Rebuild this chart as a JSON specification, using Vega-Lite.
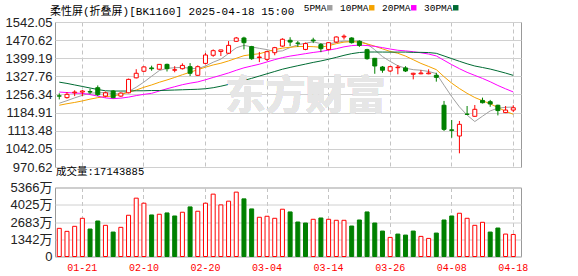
{
  "$schema": "https://vega.github.io/schema/vega-lite/v6.json",
  "background": "white",
  "padding": {"left": 4, "top": 3, "right": 10, "bottom": 2},
  "bounds": "flush",
  "spacing": 20.5,
  "config": {
    "view": {"stroke": "#999999", "strokeWidth": 1},
    "axis": {"gridColor": "#d0d0d0", "domain": false, "ticks": false, "titleFontSize": 0},
    "axisY": {"labelFont": "Liberation Sans, Noto Sans CJK SC", "labelFontSize": 13, "labelColor": "#222222", "labelPadding": 3, "labelOverlap": false, "grid": true, "gridColor": "#d0d0d0", "title": null},
    "font": "Liberation Sans"
  },
  "resolve": {"scale": {"y": "independent"}},
  "datasets": {
    "k": [
      {"d":"01-16","o":1251,"h":1261,"l":1237,"c":1250,"v":2190,"up":true,"5PMA":1222,"10PMA":1214,"20PMA":1266,"30PMA":1305},
      {"d":"01-17","o":1244,"h":1266,"l":1240,"c":1257,"v":1956,"up":true,"5PMA":1232,"10PMA":1220,"20PMA":1264,"30PMA":1300},
      {"d":"01-20","o":1263,"h":1273,"l":1250,"c":1266,"v":2347,"up":true,"5PMA":1243,"10PMA":1225,"20PMA":1262,"30PMA":1294},
      {"d":"01-21","o":1266,"h":1274,"l":1250,"c":1270,"v":2972,"up":true,"5PMA":1253,"10PMA":1231,"20PMA":1261,"30PMA":1288},
      {"d":"01-22","o":1268,"h":1279,"l":1258,"c":1266,"v":2135,"up":false,"5PMA":1261.8,"10PMA":1238,"20PMA":1256,"30PMA":1282},
      {"d":"01-23","o":1283,"h":1292,"l":1250,"c":1255.5,"v":2761,"up":false,"5PMA":1262.9,"10PMA":1244,"20PMA":1250,"30PMA":1276},
      {"d":"01-24","o":1250,"h":1268,"l":1245,"c":1263,"v":2425,"up":true,"5PMA":1264.1,"10PMA":1248,"20PMA":1243,"30PMA":1271},
      {"d":"01-27","o":1270,"h":1274,"l":1241,"c":1244,"v":1901,"up":false,"5PMA":1259.7,"10PMA":1251,"20PMA":1240,"30PMA":1270},
      {"d":"02-05","o":1250,"h":1265,"l":1247,"c":1262,"v":2268,"up":true,"5PMA":1258.1,"10PMA":1256,"20PMA":1242,"30PMA":1270},
      {"d":"02-06","o":1263,"h":1319,"l":1261,"c":1316,"v":3207,"up":true,"5PMA":1268.1,"10PMA":1265,"20PMA":1246,"30PMA":1270},
      {"d":"02-07","o":1322,"h":1356,"l":1320,"c":1340,"v":4537,"up":true,"5PMA":1285,"10PMA":1274,"20PMA":1252,"30PMA":1271},
      {"d":"02-10","o":1348,"h":1368,"l":1345,"c":1365,"v":4146,"up":true,"5PMA":1305.4,"10PMA":1284.8,"20PMA":1257,"30PMA":1271},
      {"d":"02-11","o":1361,"h":1370,"l":1350,"c":1358,"v":3231,"up":false,"5PMA":1328.2,"10PMA":1294,"20PMA":1261,"30PMA":1272},
      {"d":"02-12","o":1356,"h":1376,"l":1354,"c":1375,"v":3285,"up":true,"5PMA":1350.8,"10PMA":1304.5,"20PMA":1270,"30PMA":1272},
      {"d":"02-13","o":1375,"h":1378,"l":1347,"c":1358,"v":3387,"up":false,"5PMA":1359.2,"10PMA":1313.7,"20PMA":1279,"30PMA":1273},
      {"d":"02-14","o":1352,"h":1368,"l":1344,"c":1354,"v":3152,"up":false,"5PMA":1362,"10PMA":1323.5,"20PMA":1287,"30PMA":1274},
      {"d":"02-17","o":1358,"h":1379,"l":1355,"c":1371,"v":3442,"up":true,"5PMA":1363.2,"10PMA":1334.3,"20PMA":1295,"30PMA":1275},
      {"d":"02-18","o":1366,"h":1380,"l":1329,"c":1340,"v":3856,"up":false,"5PMA":1359.6,"10PMA":1343.9,"20PMA":1301,"30PMA":1276},
      {"d":"02-19","o":1332,"h":1371,"l":1330,"c":1366,"v":3520,"up":true,"5PMA":1357.8,"10PMA":1354.3,"20PMA":1306,"30PMA":1277},
      {"d":"02-20","o":1379,"h":1420,"l":1375,"c":1412,"v":4146,"up":true,"5PMA":1368.6,"10PMA":1363.9,"20PMA":1314.4,"30PMA":1279},
      {"d":"02-21","o":1411,"h":1434,"l":1405,"c":1429,"v":4850,"up":true,"5PMA":1383.6,"10PMA":1372.8,"20PMA":1323.4,"30PMA":1283},
      {"d":"02-24","o":1426,"h":1432,"l":1408,"c":1432,"v":4013,"up":true,"5PMA":1395.8,"10PMA":1379.5,"20PMA":1332.1,"30PMA":1289},
      {"d":"02-25","o":1419,"h":1467,"l":1416,"c":1450,"v":4302,"up":true,"5PMA":1417.8,"10PMA":1388.7,"20PMA":1341.3,"30PMA":1296},
      {"d":"02-26","o":1466,"h":1483,"l":1464,"c":1479,"v":5006,"up":true,"5PMA":1440.4,"10PMA":1399.1,"20PMA":1351.8,"30PMA":1304},
      {"d":"02-27","o":1479,"h":1484,"l":1434,"c":1460.5,"v":4482,"up":false,"5PMA":1450.1,"10PMA":1409.4,"20PMA":1361.5,"30PMA":1312},
      {"d":"02-28","o":1445,"h":1448,"l":1393,"c":1397.5,"v":3700,"up":false,"5PMA":1443.8,"10PMA":1413.7,"20PMA":1368.6,"30PMA":1320},
      {"d":"03-03","o":1402,"h":1424,"l":1384,"c":1404,"v":3051,"up":true,"5PMA":1438.2,"10PMA":1417,"20PMA":1375.7,"30PMA":1329},
      {"d":"03-04","o":1395,"h":1429,"l":1389,"c":1425,"v":3129,"up":true,"5PMA":1433.2,"10PMA":1425.5,"20PMA":1384.7,"30PMA":1338},
      {"d":"03-05","o":1421,"h":1444,"l":1411,"c":1441,"v":2972,"up":true,"5PMA":1425.6,"10PMA":1433,"20PMA":1393.7,"30PMA":1347},
      {"d":"03-06","o":1447,"h":1478,"l":1444,"c":1474,"v":3676,"up":true,"5PMA":1428.3,"10PMA":1439.2,"20PMA":1401.6,"30PMA":1356},
      {"d":"03-07","o":1470,"h":1482,"l":1447,"c":1463,"v":3465,"up":false,"5PMA":1441.4,"10PMA":1442.6,"20PMA":1407.7,"30PMA":1363.1},
      {"d":"03-10","o":1459,"h":1467,"l":1444,"c":1458,"v":2683,"up":false,"5PMA":1452.2,"10PMA":1445.2,"20PMA":1412.4,"30PMA":1369.8},
      {"d":"03-11","o":1434,"h":1461,"l":1431,"c":1457,"v":2605,"up":false,"5PMA":1458.6,"10PMA":1445.9,"20PMA":1417.3,"30PMA":1376.2},
      {"d":"03-12","o":1471,"h":1480,"l":1459,"c":1468,"v":2894,"up":true,"5PMA":1464,"10PMA":1444.8,"20PMA":1422,"30PMA":1382.8},
      {"d":"03-13","o":1453,"h":1459,"l":1423,"c":1437,"v":2996,"up":false,"5PMA":1456.6,"10PMA":1442.5,"20PMA":1425.9,"30PMA":1388.5},
      {"d":"03-14","o":1434,"h":1463,"l":1430,"c":1460.6,"v":2894,"up":true,"5PMA":1456.1,"10PMA":1448.8,"20PMA":1431.2,"30PMA":1395.3},
      {"d":"03-17","o":1463,"h":1485,"l":1460,"c":1483,"v":2816,"up":true,"5PMA":1461.1,"10PMA":1456.7,"20PMA":1436.8,"30PMA":1402.7},
      {"d":"03-18","o":1483,"h":1493,"l":1473,"c":1486,"v":2816,"up":true,"5PMA":1466.9,"10PMA":1462.8,"20PMA":1444.1,"30PMA":1410.7},
      {"d":"03-19","o":1479,"h":1482,"l":1457,"c":1460.6,"v":2370,"up":false,"5PMA":1465.4,"10PMA":1464.7,"20PMA":1448.9,"30PMA":1417.3},
      {"d":"03-20","o":1466,"h":1470,"l":1444,"c":1450,"v":2839,"up":false,"5PMA":1468,"10PMA":1462.3,"20PMA":1450.8,"30PMA":1421.8},
      {"d":"03-21","o":1433,"h":1436.5,"l":1393.5,"c":1397.5,"v":3465,"up":false,"5PMA":1455.4,"10PMA":1455.8,"20PMA":1449.2,"30PMA":1423.7},
      {"d":"03-24","o":1399,"h":1400,"l":1338,"c":1368.7,"v":2605,"up":false,"5PMA":1432.6,"10PMA":1446.8,"20PMA":1446,"30PMA":1423.8},
      {"d":"03-25","o":1364.7,"h":1368.7,"l":1342,"c":1352,"v":1979,"up":false,"5PMA":1405.8,"10PMA":1436.3,"20PMA":1441.1,"30PMA":1423.6},
      {"d":"03-26","o":1349,"h":1369,"l":1345,"c":1366,"v":1486,"up":true,"5PMA":1386.8,"10PMA":1426.1,"20PMA":1435.5,"30PMA":1423.3},
      {"d":"03-27","o":1362,"h":1372.6,"l":1336,"c":1364,"v":1744,"up":false,"5PMA":1369.6,"10PMA":1418.8,"20PMA":1430.6,"30PMA":1423.5},
      {"d":"03-28","o":1361,"h":1368,"l":1345,"c":1349,"v":1666,"up":false,"5PMA":1359.9,"10PMA":1407.7,"20PMA":1428.2,"30PMA":1423.4},
      {"d":"03-31","o":1336,"h":1342,"l":1316,"c":1340,"v":1979,"up":false,"5PMA":1354.2,"10PMA":1393.4,"20PMA":1425,"30PMA":1422.3},
      {"d":"04-01","o":1338,"h":1353,"l":1336,"c":1341,"v":1564,"up":true,"5PMA":1352,"10PMA":1378.9,"20PMA":1420.8,"30PMA":1422.4},
      {"d":"04-02","o":1338,"h":1355.6,"l":1336,"c":1341,"v":1408,"up":true,"5PMA":1347,"10PMA":1366.9,"20PMA":1415.8,"30PMA":1421.5},
      {"d":"04-03","o":1332,"h":1342,"l":1307,"c":1324,"v":1822,"up":false,"5PMA":1339,"10PMA":1354.3,"20PMA":1408.3,"30PMA":1418.6},
      {"d":"04-07","o":1214,"h":1231,"l":1112.5,"c":1119,"v":2839,"up":false,"5PMA":1293,"10PMA":1326.5,"20PMA":1391.1,"30PMA":1408.3},
      {"d":"04-08","o":1117,"h":1156,"l":1086,"c":1115,"v":3152,"up":false,"5PMA":1248,"10PMA":1301.1,"20PMA":1374,"30PMA":1397.7},
      {"d":"04-09","o":1092.7,"h":1152,"l":1024.5,"c":1138.8,"v":3363,"up":true,"5PMA":1207.6,"10PMA":1279.8,"20PMA":1358.1,"30PMA":1387.3},
      {"d":"04-10","o":1179,"h":1211,"l":1175.5,"c":1178,"v":2972,"up":true,"5PMA":1175,"10PMA":1261,"20PMA":1343.6,"30PMA":1377.3},
      {"d":"04-11","o":1170.4,"h":1215,"l":1168,"c":1198,"v":2425,"up":true,"5PMA":1149.8,"10PMA":1244.4,"20PMA":1331.6,"30PMA":1368.6},
      {"d":"04-14","o":1233,"h":1244,"l":1221,"c":1224,"v":2659,"up":true,"5PMA":1170.8,"10PMA":1231.9,"20PMA":1319.8,"30PMA":1362.8},
      {"d":"04-15","o":1228,"h":1235,"l":1208,"c":1219,"v":1901,"up":false,"5PMA":1191.6,"10PMA":1219.8,"20PMA":1306.6,"30PMA":1356.6},
      {"d":"04-16","o":1214,"h":1216,"l":1174,"c":1193,"v":2214,"up":false,"5PMA":1202.4,"10PMA":1205,"20PMA":1291.9,"30PMA":1348.9},
      {"d":"04-17","o":1185,"h":1211,"l":1183,"c":1195,"v":1744,"up":true,"5PMA":1205.8,"10PMA":1190.4,"20PMA":1278.7,"30PMA":1340.7},
      {"d":"04-18","o":1195,"h":1214,"l":1187,"c":1204,"v":1714,"up":true,"5PMA":1207,"10PMA":1178.4,"20PMA":1266.4,"30PMA":1331.7}
    ]
  },
  "vconcat": [
    {
      "width": 466,
      "height": 145,
      "data": {"name": "k"},
      "title": {"text": "柔性屏(折叠屏)[BK1160] 2025-04-18 15:00", "anchor": "start", "frame": "group", "dx": -5, "offset": -1, "font": "Liberation Mono, Noto Sans CJK SC", "fontSize": 11, "fontWeight": "normal", "color": "#000000"},
      "encoding": {
        "x": {"field": "d", "type": "ordinal",
          "scale": {"type": "band", "paddingInner": 0, "paddingOuter": 0.28, "align": 0.1},
          "axis": {"values": ["01-21","02-10","02-20","03-04","03-14","03-26","04-08","04-18"], "labels": false, "ticks": false, "domain": false, "grid": true, "gridDash": [4,3], "gridColor": "#c4c4c4", "bandPosition": 0.5, "title": null}}
      },
      "layer": [
        {
          "transform": [{"fold": ["5PMA", "10PMA", "20PMA", "30PMA"], "as": ["ma", "val"]}],
          "mark": {"type": "line", "strokeWidth": 1, "interpolate": "linear"},
          "encoding": {
            "y": {"field": "val", "type": "quantitative",
              "scale": {"domain": [970.62, 1542.05], "zero": false, "nice": false},
              "axis": {"values": [970.62, 1042.05, 1113.48, 1184.91, 1256.34, 1327.76, 1399.19, 1470.62, 1542.05], "format": ".2f", "labelOverlap": false, "grid": true, "title": null}},
            "color": {"field": "ma", "type": "nominal",
              "scale": {"domain": ["5PMA", "10PMA", "20PMA", "30PMA"], "range": ["#a0a0a0", "#f5a300", "#ff00ff", "#006b33"]},
              "legend": {"orient": "none", "legendX": 270, "legendY": -19, "direction": "horizontal", "title": null, "symbolType": "square", "symbolSize": 6, "symbolStrokeWidth": 3, "labelFont": "Liberation Mono", "labelFontSize": 9.5, "labelColor": "#000000", "labelAlign": "right", "labelOffset": -8, "columnPadding": 2}}
          }
        },
        {
          "mark": {"type": "text", "font": "Noto Sans CJK SC", "fontWeight": "bold", "fontSize": 40, "color": "#e6e6e6"},
          "encoding": {
            "x": {"datum": "03-11", "type": "ordinal"},
            "y": {"datum": 1248, "type": "quantitative",
              "axis": {"values": [970.62, 1042.05, 1113.48, 1184.91, 1256.34, 1327.76, 1399.19, 1470.62, 1542.05], "format": ".2f", "labelOverlap": false, "grid": true, "title": null}},
            "text": {"value": "东方财富"}
          }
        },
        {
          "mark": {"type": "rule", "strokeWidth": 1},
          "encoding": {
            "y": {"field": "l", "type": "quantitative",
              "axis": {"values": [970.62, 1042.05, 1113.48, 1184.91, 1256.34, 1327.76, 1399.19, 1470.62, 1542.05], "format": ".2f", "labelOverlap": false, "grid": true, "title": null}},
            "y2": {"field": "h"},
            "color": {"condition": {"test": "datum.c >= datum.o", "value": "#ff0000"}, "value": "#008000"}
          }
        },
        {
          "mark": {"type": "bar", "width": 4, "strokeWidth": 1},
          "encoding": {
            "y": {"field": "o", "type": "quantitative",
              "axis": {"values": [970.62, 1042.05, 1113.48, 1184.91, 1256.34, 1327.76, 1399.19, 1470.62, 1542.05], "format": ".2f", "labelOverlap": false, "grid": true, "title": null}},
            "y2": {"field": "c"},
            "fill": {"condition": {"test": "datum.c >= datum.o", "value": "#ffffff"}, "value": "#008000"},
            "stroke": {"condition": {"test": "datum.c >= datum.o", "value": "#ff0000"}, "value": "#008000"}
          }
        }
      ]
    },
    {
      "width": 466,
      "height": 69,
      "data": {"name": "k"},
      "title": {"text": "成交量:17143885", "anchor": "start", "frame": "group", "dx": 1, "offset": 4, "font": "Liberation Mono, Noto Sans CJK SC", "fontSize": 10.5, "fontWeight": "normal", "color": "#000000"},
      "mark": {"type": "bar", "width": 4, "strokeWidth": 1},
      "encoding": {
        "x": {"field": "d", "type": "ordinal",
          "scale": {"type": "band", "paddingInner": 0, "paddingOuter": 0.28, "align": 0.1},
          "axis": {"values": ["01-21","02-10","02-20","03-04","03-14","03-26","04-08","04-18"], "labelColor": "#ff0000", "labelFont": "Liberation Mono", "labelFontSize": 10, "labelPadding": 6, "labelAngle": 0, "ticks": false, "domain": false, "grid": true, "gridDash": [4,3], "gridColor": "#c4c4c4", "bandPosition": 0.5, "title": null}},
        "y": {"field": "v", "type": "quantitative",
          "scale": {"domain": [0, 5366], "nice": false},
          "axis": {"values": [0, 1342, 2683, 4025, 5366], "labelExpr": "datum.value == 0 ? '0' : datum.value + '万'", "labelOverlap": false, "title": null}},
        "fill": {"condition": {"test": "datum.up", "value": "#ffffff"}, "value": "#008000"},
        "stroke": {"condition": {"test": "datum.up", "value": "#ff0000"}, "value": "#008000"}
      }
    }
  ]
}
